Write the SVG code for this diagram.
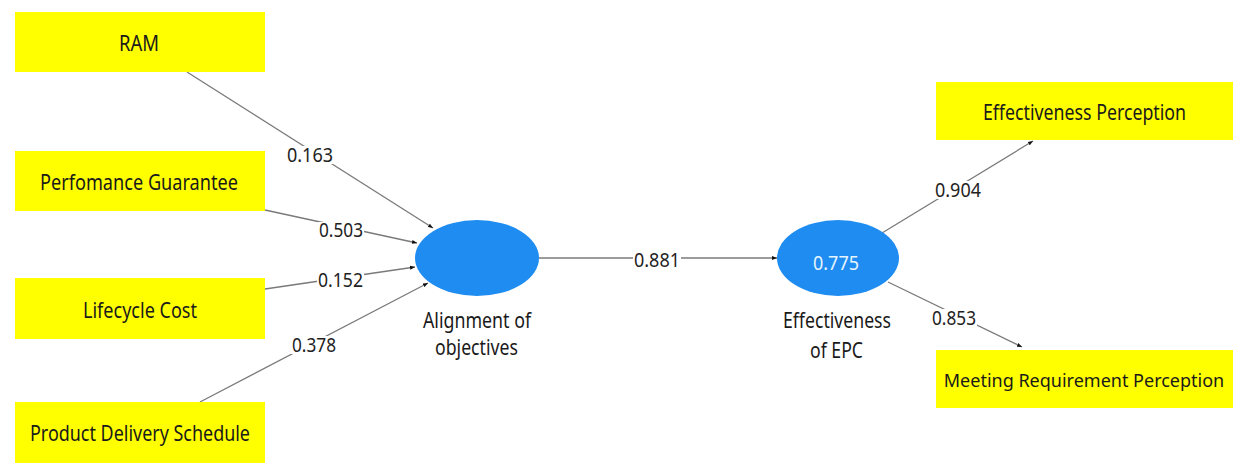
<svg xmlns="http://www.w3.org/2000/svg" width="1238" height="464" viewBox="0 0 1238 464">
<defs>
<style>
.box{fill:#ffff00;}
.lv{fill:#1e8cf0;}
.t{font-family:"Noto Sans","Liberation Sans",sans-serif;font-size:21px;fill:#1a1a1a;}
.s{font-size:18px;}
.n{font-family:"Noto Sans","Liberation Sans",sans-serif;font-size:20px;fill:#222;}
.w{font-family:"Noto Sans","Liberation Sans",sans-serif;font-size:20px;fill:#e6f4ff;}
.e{stroke:#7a7a7a;stroke-width:1.3;fill:none;marker-end:url(#ah);}
.bg{fill:#ffffff;}
</style>
<marker id="ah" viewBox="0 0 10 10" refX="10" refY="5" markerWidth="5" markerHeight="5" markerUnits="userSpaceOnUse" orient="auto">
<path d="M0,1 L10,5 L0,9 z" fill="#111"/>
</marker>
</defs>
<rect width="1238" height="464" fill="#ffffff"/>

<g id="connectors">
<line class="e" x1="187" y1="72" x2="433" y2="228"/>
<line class="e" x1="265" y1="210" x2="417" y2="243"/>
<line class="e" x1="265" y1="289" x2="415" y2="267"/>
<line class="e" x1="200" y1="402" x2="428" y2="283"/>
<line class="e" x1="539" y1="258" x2="777" y2="258"/>
<line class="e" x1="882" y1="233" x2="1033" y2="141"/>
<line class="e" x1="888" y1="282" x2="1022" y2="347"/>
<g id="edge-labels">
<rect class="bg" x="286" y="146" width="48" height="18"/>
<text class="n" x="287" y="162" textLength="46" lengthAdjust="spacingAndGlyphs">0.163</text>
<rect class="bg" x="318" y="222" width="46" height="16"/>
<text class="n" x="319" y="237" textLength="44" lengthAdjust="spacingAndGlyphs">0.503</text>
<rect class="bg" x="317" y="271" width="47" height="18"/>
<text class="n" x="318" y="287" textLength="45" lengthAdjust="spacingAndGlyphs">0.152</text>
<rect class="bg" x="291" y="336" width="46" height="18"/>
<text class="n" x="292" y="352" textLength="44" lengthAdjust="spacingAndGlyphs">0.378</text>
<rect class="bg" x="633" y="251" width="48" height="18"/>
<text class="n" x="634" y="267" textLength="46" lengthAdjust="spacingAndGlyphs">0.881</text>
<rect class="bg" x="934" y="181" width="48" height="18"/>
<text class="n" x="935" y="197" textLength="46" lengthAdjust="spacingAndGlyphs">0.904</text>
<rect class="bg" x="931" y="309" width="46" height="18"/>
<text class="n" x="932" y="325" textLength="44" lengthAdjust="spacingAndGlyphs">0.853</text>
</g>
</g>

<g id="ram">
<rect class="box" x="15" y="12" width="250" height="60"/>
<text class="t" x="119" y="51" textLength="40" lengthAdjust="spacingAndGlyphs">RAM</text>
</g>
<g id="performance-guarantee">
<rect class="box" x="15" y="151" width="250" height="60"/>
<text class="t" x="40" y="190" textLength="198" lengthAdjust="spacingAndGlyphs">Perfomance Guarantee</text>
</g>
<g id="lifecycle-cost">
<rect class="box" x="15" y="278" width="250" height="61"/>
<text class="t" x="83" y="318" textLength="114" lengthAdjust="spacingAndGlyphs">Lifecycle Cost</text>
</g>
<g id="product-delivery-schedule">
<rect class="box" x="15" y="402" width="250" height="61"/>
<text class="t" x="30" y="441" textLength="220" lengthAdjust="spacingAndGlyphs">Product Delivery Schedule</text>
</g>

<g id="alignment-of-objectives">
<ellipse class="lv" cx="477" cy="258" rx="62" ry="38"/>
<text class="t" x="423" y="328" textLength="108" lengthAdjust="spacingAndGlyphs">Alignment of</text>
<text class="t" x="435" y="355" textLength="83" lengthAdjust="spacingAndGlyphs">objectives</text>
</g>

<g id="effectiveness-of-epc">
<ellipse class="lv" cx="838" cy="258" rx="61" ry="38"/>
<text class="w" x="813" y="270" textLength="46" lengthAdjust="spacingAndGlyphs">0.775</text>
<text class="t" x="783" y="328" textLength="108" lengthAdjust="spacingAndGlyphs">Effectiveness</text>
<text class="t" x="810" y="358" textLength="53" lengthAdjust="spacingAndGlyphs">of EPC</text>
</g>

<g id="effectiveness-perception">
<rect class="box" x="936" y="82" width="297" height="58"/>
<text class="t" x="983" y="120" textLength="203" lengthAdjust="spacingAndGlyphs">Effectiveness Perception</text>
</g>
<g id="meeting-requirement-perception">
<rect class="box" x="936" y="350" width="297" height="58"/>
<text class="t s" x="1084" y="387" text-anchor="middle">Meeting Requirement Perception</text>
</g>
</svg>
